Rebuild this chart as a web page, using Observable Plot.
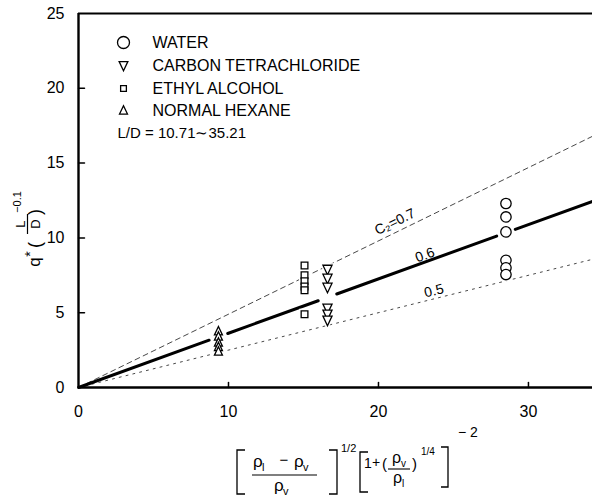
<!DOCTYPE html>
<html><head><meta charset="utf-8">
<script src="https://cdn.jsdelivr.net/npm/d3@7"></script>
<script src="https://cdn.jsdelivr.net/npm/@observablehq/plot@0.6"></script>
<style>
body{margin:0;background:#fff;}
#chart svg{display:block;}
</style>
</head><body><div id="chart"></div>
<script>
// ---- data ----
const xTicks = [0, 10, 20, 30];
const yTicks = [0, 5, 10, 15, 20, 25];
const seriesNames = ["WATER", "CARBON TETRACHLORIDE", "ETHYL ALCOHOL", "NORMAL HEXANE"];
const waterX = 28.5;
const waterY = [12.3, 11.4, 10.4, 8.5, 8.0, 7.55];
const cclX = 16.6;
const cclY = [7.9, 7.3, 6.7, 5.3, 4.9, 4.5];
const alcoholX = 15.07;
const alcoholY = [8.15, 7.5, 7.1, 6.75, 6.5, 4.9];
const hexaneX = 9.33;
const hexaneY = [3.75, 3.4, 3.0, 2.7, 2.4];
const c2Labels = ["C\u2082=0.7", "0.6", "0.5"];
const c2Slopes = [0.49, 0.363, 0.25];
const c2LabelX = [21.1, 23.1, 23.7];
const ldText = "L/D = 10.71\u223C35.21";

// ---- layout ----
const W = 592, H = 496;
const mL = 78, mT = 13, mB = 109, mR = 0;
const xMax = 34.27;
const pxX = (W - mL - mR) / xMax, pxY = (H - mT - mB) / 25;
const FONT = "'Liberation Sans', Arial, Helvetica, sans-serif";

// symbols
const triUp = {draw(ctx, size){const r=Math.sqrt(size/Math.PI); ctx.moveTo(0,-1.15*r); ctx.lineTo(0.95*r,0.85*r); ctx.lineTo(-0.95*r,0.85*r); ctx.closePath();}};
const triDown = {draw(ctx, size){const r=Math.sqrt(size/Math.PI); ctx.moveTo(0,1.15*r); ctx.lineTo(0.95*r,-0.85*r); ctx.lineTo(-0.95*r,-0.85*r); ctx.closePath();}};
const sq = {draw(ctx, size){const r=Math.sqrt(size/Math.PI); ctx.rect(-0.8*r,-0.8*r,1.6*r,1.6*r);}};
const circ = {draw(ctx, size){const r=Math.sqrt(size/Math.PI); ctx.moveTo(r,0); ctx.arc(0,0,r,0,2*Math.PI);}};
const tickShape = {draw(ctx, l){ctx.moveTo(0,0); ctx.lineTo(0,-l);}};

const pts = (x, ys) => ys.map(y => ({x, y}));
const water = pts(waterX, waterY), ccl = pts(cclX, cclY), alcohol = pts(alcoholX, alcoholY), hexane = pts(hexaneX, hexaneY);

// C2 lines
const lineData = c2Slopes.map((s, i) => [{x: 0, y: 0, k: i}, {x: xMax, y: s * xMax, k: i}]);
// solid 0.6 line broken around the clusters it passes through
const gap = 0.62;
const bounds = [0];
[hexaneX, cclX, waterX].forEach(c => bounds.push(c - gap, c + gap));
bounds.push(xMax);
const solidSegs = [];
for (let i = 0; i < bounds.length; i += 2) {
  solidSegs.push({x: bounds[i], y: c2Slopes[1]*bounds[i], z: i}, {x: bounds[i+1], y: c2Slopes[1]*bounds[i+1], z: i});
}
const labels = c2Labels.map((t, i) => ({t, x: c2LabelX[i], y: c2Slopes[i]*c2LabelX[i],
  rot: -Math.atan(c2Slopes[i]*pxY/pxX)*180/Math.PI}));
const labelDy = [-11, -7, -8];

const dotsFor = (data, symbol, r) => [
  Plot.dot(data, {x: "x", y: "y", symbol, r, fill: "white", stroke: "white", strokeWidth: 4}),
  Plot.dot(data, {x: "x", y: "y", symbol, r, fill: "white", stroke: "black", strokeWidth: 1.3})
];

const legendSyms = [circ, triDown, sq, triUp];
const legendR = [6, 4.6, 3.6, 4.2];
const rowDy = [29, 52, 75, 97];

const chart = Plot.plot({
  width: W, height: H,
  marginLeft: mL, marginTop: mT, marginBottom: mB, marginRight: mR,
  x: {domain: [0, xMax]},
  y: {domain: [0, 25]},
  style: {fontFamily: FONT, fontSize: "16px", color: "black", background: "white", overflow: "visible"},
  marks: [
    Plot.axisX({ticks: xTicks, tickSize: 0, tickPadding: 18, fontSize: 16, label: null}),
    Plot.axisY({ticks: yTicks, tickSize: 0, tickPadding: 14, fontSize: 16, label: null}),
    // inward tick marks
    Plot.vector(xTicks.slice(1), {x: d => d, y: 0, length: 5, rotate: 0, anchor: "start", shape: tickShape, stroke: "black", strokeWidth: 1.5}),
    Plot.vector(yTicks.slice(1, -1), {x: 0, y: d => d, length: 6, rotate: 90, anchor: "start", shape: tickShape, stroke: "black", strokeWidth: 1.5}),
    Plot.line(lineData[0], {x: "x", y: "y", stroke: "#333", strokeWidth: 0.9, strokeDasharray: "5,4"}),
    Plot.line(lineData[2], {x: "x", y: "y", stroke: "#333", strokeWidth: 0.9, strokeDasharray: "2,5"}),
    Plot.line(solidSegs, {x: "x", y: "y", z: "z", stroke: "black", strokeWidth: 3}),
    ...labels.map((l, i) => Plot.text([l], {x: "x", y: "y", text: "t", rotate: "rot", dy: labelDy[i], fontSize: 14, fill: "black"})),
    ...dotsFor(water, circ, 5.2),
    ...dotsFor(ccl, triDown, 4.8),
    ...dotsFor(alcohol, sq, 4.2),
    ...dotsFor(hexane, triUp, 4.2),
    Plot.ruleX([0], {stroke: "black", strokeWidth: 2.4}),
    Plot.ruleY([0], {stroke: "black", strokeWidth: 2.4}),
    Plot.ruleY([25], {stroke: "black", strokeWidth: 1.8}),
    // legend
    ...legendSyms.map((s, i) => Plot.dot([seriesNames[i]], {frameAnchor: "top-left", dx: 45, dy: rowDy[i], symbol: s, r: legendR[i], fill: "white", stroke: "black", strokeWidth: 1.3})),
    ...seriesNames.map((n, i) => Plot.text([n], {frameAnchor: "top-left", dx: 74, dy: rowDy[i], text: d => d, textAnchor: "start", lineAnchor: "middle", fontSize: 16})),
    Plot.text([ldText], {frameAnchor: "top-left", dx: 39, dy: 120, text: d => d, textAnchor: "start", lineAnchor: "middle", fontSize: 15})
  ]
});
document.getElementById("chart").appendChild(chart);

const svg = d3.select(chart);

// ---- y axis title: q*(L/D)^-0.1 ----
const yl = svg.append("g").attr("transform", "translate(40,262) rotate(-90)")
  .attr("font-family", FONT).attr("fill", "black");
yl.append("text").attr("x", 0).attr("y", 0).attr("font-size", 17).text("q");
yl.append("text").attr("x", 8).attr("y", -5).attr("font-size", 14).text("*");
yl.append("text").attr("x", 17).attr("y", 1).attr("font-size", 18).text("(");
yl.append("text").attr("x", 38).attr("y", -15).attr("font-size", 13).attr("text-anchor", "middle").text("L");
yl.append("line").attr("x1", 28).attr("x2", 48).attr("y1", -12.5).attr("y2", -12.5).attr("stroke", "black").attr("stroke-width", 1.2);
yl.append("text").attr("x", 38).attr("y", 0).attr("font-size", 13).attr("text-anchor", "middle").text("D");
yl.append("text").attr("x", 50).attr("y", 1).attr("font-size", 18).text(")");
yl.append("text").attr("x", 60).attr("y", -19).attr("font-size", 11).text("\u22120.1");

// ---- x axis title: [(ρl−ρv)/ρv]^1/2 [1+(ρv/ρl)^1/4]^-2 ----
const xl = svg.append("g").attr("font-family", FONT).attr("fill", "black");
const T = (x, y, s, t, a) => xl.append("text").attr("x", x).attr("y", y).attr("font-size", s).attr("text-anchor", a || "start").text(t);
const P = d => xl.append("path").attr("d", d).attr("fill", "none").attr("stroke", "black").attr("stroke-width", 1.3);
P("M245,450H237V494H245");
P("M329,450H337V494H329");
T(253, 467, 17, "\u03C1"); T(262, 471, 11, "l");
T(284, 465, 15, "\u2212", "middle");
T(294, 467, 17, "\u03C1"); T(303, 471, 11, "v");
xl.append("line").attr("x1", 252).attr("x2", 317).attr("y1", 475).attr("y2", 475).attr("stroke", "black").attr("stroke-width", 1.2);
T(274, 491, 17, "\u03C1"); T(283, 495, 11, "v");
T(341, 452, 11, "1/2");
P("M368,452H360V492H368");
T(364, 468, 14, "1"); T(376, 467, 14, "+", "middle"); T(382, 469, 15, "(");
T(392, 463, 16, "\u03C1"); T(401, 467, 10, "v");
xl.append("line").attr("x1", 388).attr("x2", 410).attr("y1", 469).attr("y2", 469).attr("stroke", "black").attr("stroke-width", 1.1);
T(393, 483, 16, "\u03C1"); T(402, 487, 10, "l");
T(412, 469, 15, ")");
T(421, 455, 10, "1/4");
P("M441,447H448V487H441");
T(458, 437, 14, "\u2212 2");
</script>
</body></html>
